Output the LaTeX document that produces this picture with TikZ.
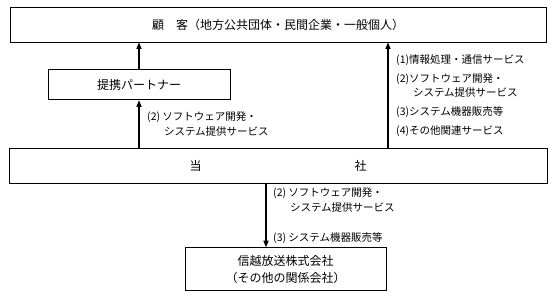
\documentclass[tikz,border=0pt]{standalone}
\usepackage{fontspec}
\setmainfont{Noto Sans CJK JP}
\usetikzlibrary{positioning,arrows.meta}
\newcommand{\ind}{\hspace*{1.6em}}
\tikzset{
  box/.style={draw, line width=0.9pt, inner sep=0pt, align=center, font=\fontsize{12}{17}\selectfont},
  lbl/.style={inner sep=0pt, anchor=north west, align=left, font=\fontsize{10.5}{14.5}\selectfont},
  arr/.style={-{Triangle[length=2.3mm, width=1.8mm]}, line width=1.1pt},
}
\begin{document}
\begin{tikzpicture}[x=1pt, y=1pt, node distance=2mm]
\useasboundingbox (0,0) rectangle (556,-295);
\node[box, minimum width=536pt, minimum height=35pt] (cust) at (278,-24.5) {顧　客（地方公共団体・民間企業・一般個人）};
\node[box, minimum width=182pt, minimum height=30pt, below=27pt of cust, xshift=-139pt] (partner) {提携パートナー};
\node[box, minimum width=538pt, minimum height=35pt, below=48pt of partner, xshift=139pt] (comp) {当\hspace{153pt}社};
\node[box, minimum width=201pt, minimum height=43pt, below=63pt of comp, xshift=7.5pt] (shinetsu) {信越放送株式会社\\（その他の関係会社）};
\coordinate (rt) at ([xshift=110pt]comp.north);
\coordinate (dn) at ([xshift=-12pt]comp.south);
\draw[arr] (partner.north) -- (partner.north |- cust.south);
\draw[arr] (partner.south |- comp.north) -- (partner.south);
\draw[arr] (rt) -- (rt |- cust.south);
\draw[arr] (dn) -- (dn |- shinetsu.north);
\node[lbl] (lblL) at (147,-112) {(2) ソフトウェア開発・\\\ind システム提供サービス};
\node[lbl] (lblR) at (396,-54) {(1)情報処理・通信サービス\\[4.5pt](2)ソフトウェア開発・\\\ind システム提供サービス\\[4.5pt](3)システム機器販売等\\[4.5pt](4)その他関連サービス};
\node[lbl] (lblB) at (273,-188) {(2) ソフトウェア開発・\\\ind システム提供サービス};
\node[lbl] (lblB3) at (273,-232) {(3) システム機器販売等};
\end{tikzpicture}
\end{document}
